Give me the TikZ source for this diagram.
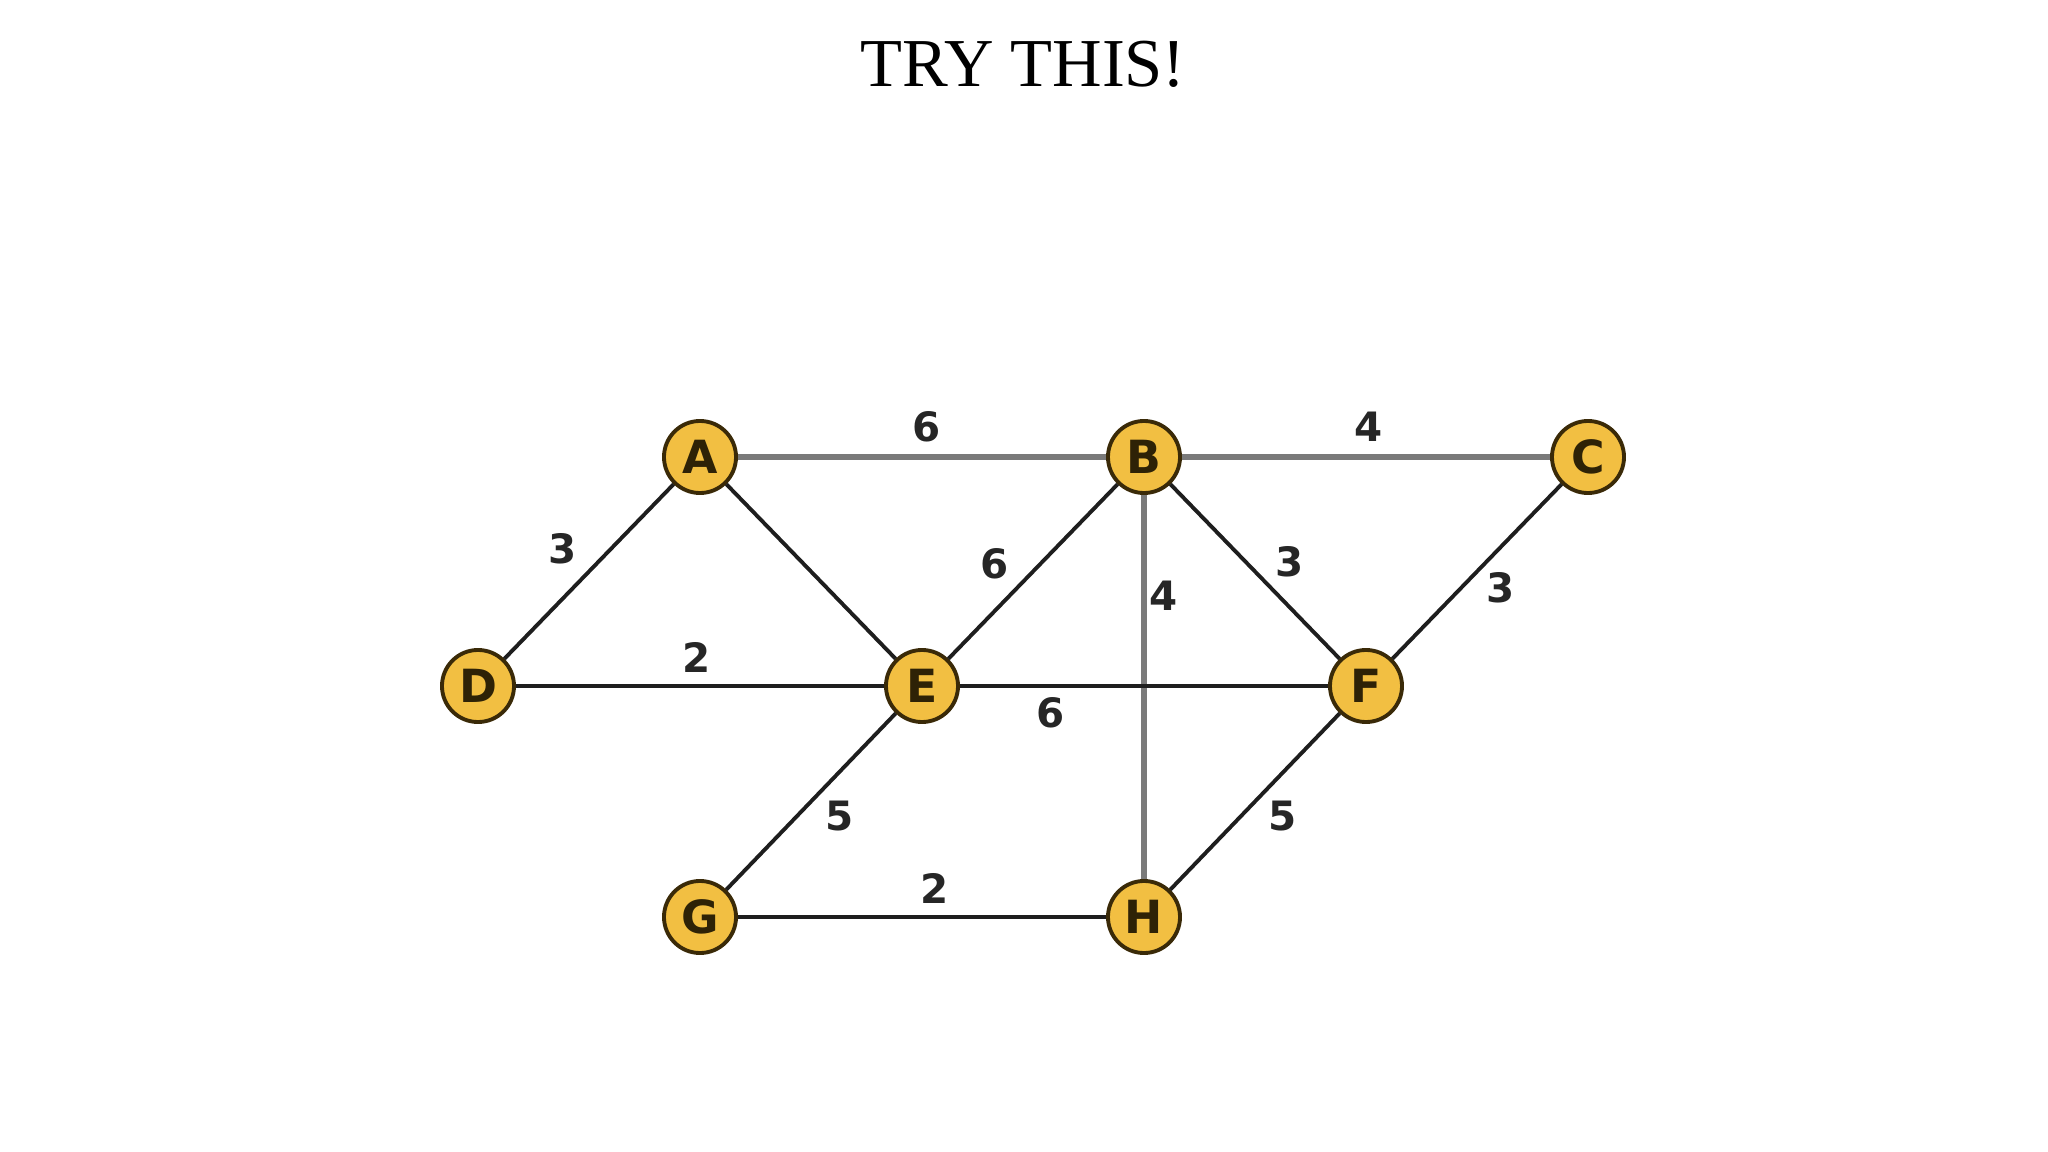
\documentclass[tikz,border=0pt]{standalone}
\usepackage{fontspec}
\setmainfont{Liberation Serif}
\newfontfamily\graphfont{DejaVu Sans}
\usepackage{tikz}
\definecolor{vertexfill}{HTML}{F2BF42}
\definecolor{vertexline}{HTML}{3A2A08}
\definecolor{heavyedge}{HTML}{7A7A7A}
\definecolor{lightedge}{HTML}{1E1E1E}
\tikzset{
  vertex/.style={circle,draw=vertexline,line width=1.1pt,fill=vertexfill,
    minimum size=0.72cm,inner sep=0pt,text=vertexline!80!black,font=\graphfont\bfseries\fontsize{13}{13}\selectfont},
  grayedge/.style={draw=heavyedge,line width=1.5pt},
  darkedge/.style={draw=lightedge,line width=1.1pt},
  weight/.style={font=\graphfont\bfseries\fontsize{11.5}{11.5}\selectfont,text=black!85}
}
\begin{document}
\begin{tikzpicture}[x=0.01cm,y=-0.01cm]
\path[use as bounding box] (0,0) rectangle (2048,1152);
\node (title) at (1023,64) {\fontsize{19.5}{20}\selectfont TRY THIS!};
%
\node[vertex] (A) at (700,457) {A};
\node[vertex] (B) at (1144,457) {B};
\node[vertex] (C) at (1588,457) {C};
\node[vertex] (D) at (478,686) {D};
\node[vertex] (E) at (922,686) {E};
\node[vertex] (F) at (1366,686) {F};
\node[vertex] (G) at (700,917) {G};
\node[vertex] (H) at (1144,917) {H};
%
\draw[grayedge] (A) -- (B);
\draw[grayedge] (B) -- (C);
\draw[grayedge] (B) -- (H);
\draw[darkedge] (D) -- (E);
\draw[darkedge] (E) -- (F);
\draw[darkedge] (G) -- (H);
\draw[darkedge] (D) -- (A);
\draw[darkedge] (A) -- (E);
\draw[darkedge] (E) -- (B);
\draw[darkedge] (B) -- (F);
\draw[darkedge] (F) -- (C);
\draw[darkedge] (E) -- (G);
\draw[darkedge] (F) -- (H);
%
\node[weight] (wab) at (927,427) {6};
\node[weight] (wbc) at (1369,427) {4};
\node[weight] (wad) at (563,549) {3};
\node[weight] (web) at (995,564) {6};
\node[weight] (wbh) at (1164,596) {4};
\node[weight] (wbf) at (1290,562) {3};
\node[weight] (wcf) at (1501,588) {3};
\node[weight] (wde) at (697,657) {2};
\node[weight] (wef) at (1051,713) {6};
\node[weight] (weg) at (840,816) {5};
\node[weight] (wfh) at (1283,816) {5};
\node[weight] (wgh) at (935,888) {2};
\end{tikzpicture}
\end{document}
